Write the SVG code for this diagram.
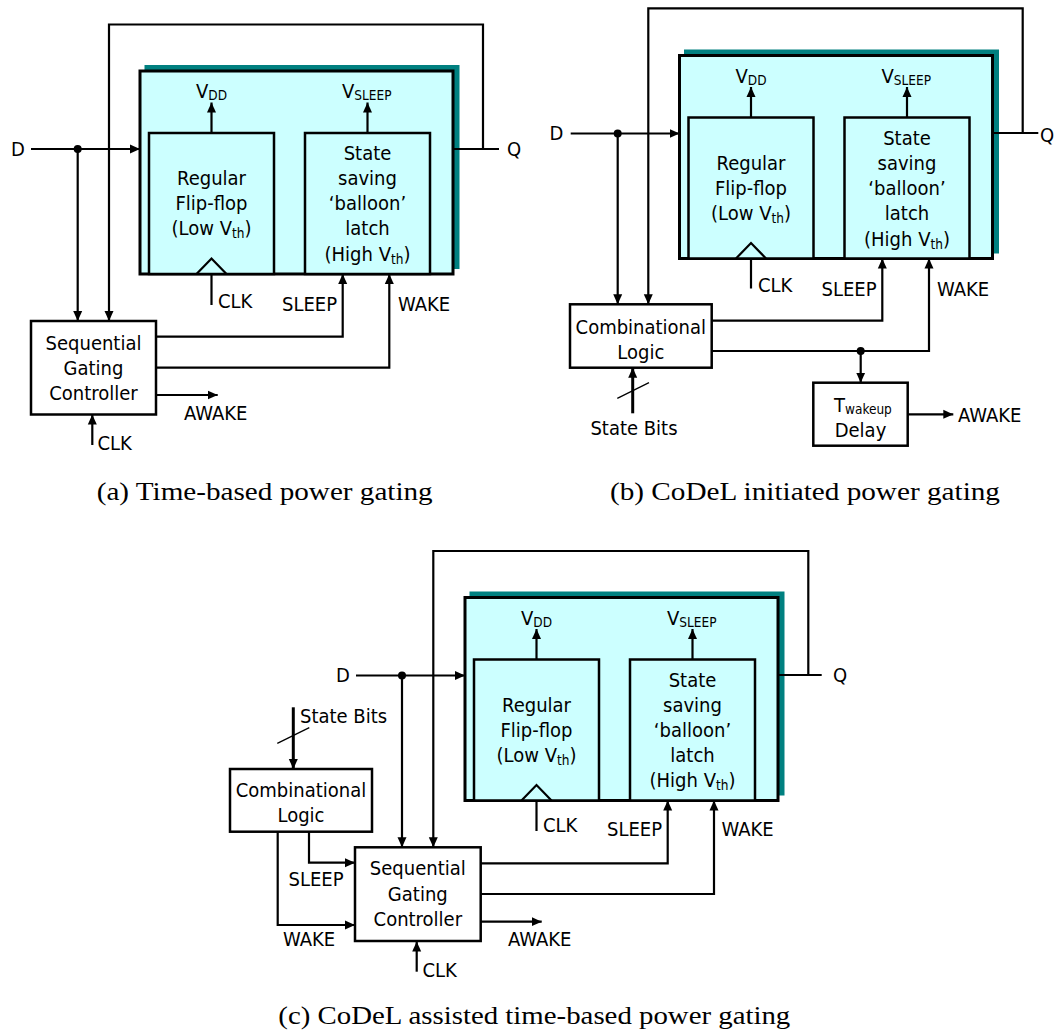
<svg xmlns="http://www.w3.org/2000/svg" width="1063" height="1034" viewBox="0 0 1063 1034">
  <style>
    .bg { fill: #ffffff; }
    .shadow { fill: #008080; stroke: none; }
    .outer { fill: #ccffff; stroke: #000; stroke-width: 3; }
    .inner { fill: #ccffff; stroke: #000; stroke-width: 2.5; }
    .box { fill: #ffffff; stroke: #000; stroke-width: 2.5; }
    .wire { fill: none; stroke: #000; stroke-width: 2.2; }
    .bus { fill: none; stroke: #000; stroke-width: 3; }
    .thin { fill: none; stroke: #000; stroke-width: 1.3; }
    .dot { fill: #000; }
    text { font-family: "DejaVu Sans Condensed", "DejaVu Sans", sans-serif; font-stretch: condensed; font-size: 20px; fill: #000; }
    .c { text-anchor: middle; }
    .e { text-anchor: end; }
    .sub { font-size: 13.5px; }
    .cap { font-family: "Liberation Serif", "DejaVu Serif", serif; font-stretch: normal; font-size: 25px; }
  </style>
  <defs>
    <marker id="ah" viewBox="0 0 10 10" refX="10" refY="5" markerWidth="10" markerHeight="10" markerUnits="userSpaceOnUse" orient="auto">
      <path d="M0,0.5 L10,5 L0,9.5 Z" fill="#000"/>
    </marker>
  </defs>
  <rect class="bg" x="0" y="0" width="1063" height="1034"/>

  <!-- ===== (a) time-based power gating ===== -->
  <g id="a-ff-block">
    <rect class="shadow" x="144.5" y="65" width="315" height="204"/>
    <rect class="outer" x="140" y="71" width="313" height="203"/>
    <text x="196" y="98">V<tspan class="sub" dy="2">DD</tspan></text>
    <text x="342" y="98">V<tspan class="sub" dy="2">SLEEP</tspan></text>
  </g>
  <g id="a-regular-ff">
    <rect class="inner" x="149" y="133" width="125" height="141"/>
    <polyline class="wire" points="196.5,274 211.5,258.5 226.5,274"/>
    <text class="c" x="211.5" y="185">Regular</text>
    <text class="c" x="211.5" y="210">Flip-flop</text>
    <text class="c" x="211.5" y="235">(Low V<tspan class="sub" dy="3">th</tspan><tspan dy="-3">)</tspan></text>
  </g>
  <g id="a-balloon-latch">
    <rect class="inner" x="305" y="133" width="125" height="141"/>
    <text class="c" x="367.5" y="160">State</text>
    <text class="c" x="367.5" y="185">saving</text>
    <text class="c" x="367.5" y="210">‘balloon’</text>
    <text class="c" x="367.5" y="235">latch</text>
    <text class="c" x="367.5" y="261">(High V<tspan class="sub" dy="3">th</tspan><tspan dy="-3">)</tspan></text>
  </g>
  <g id="a-controller">
    <rect class="box" x="31" y="321" width="125" height="93.5"/>
    <text class="c" x="93.5" y="350">Sequential</text>
    <text class="c" x="93.5" y="375">Gating</text>
    <text class="c" x="93.5" y="399.5">Controller</text>
  </g>
  <g id="a-labels">
    <text x="11" y="155.5">D</text>
    <text x="507" y="155.5">Q</text>
    <text x="218" y="308">CLK</text>
    <text class="e" x="337" y="311">SLEEP</text>
    <text x="398" y="311">WAKE</text>
    <text x="184" y="419.5">AWAKE</text>
    <text x="97.5" y="450">CLK</text>
    <text class="cap" x="96.7" y="500" textLength="336" lengthAdjust="spacingAndGlyphs">(a) Time-based power gating</text>
  </g>

  <!-- ===== (b) CoDeL initiated power gating ===== -->
  <g id="b-ff-block">
    <rect class="shadow" x="684" y="49.5" width="315" height="204"/>
    <rect class="outer" x="679.5" y="55.5" width="313" height="203"/>
    <text x="735.5" y="82.5">V<tspan class="sub" dy="2">DD</tspan></text>
    <text x="881.5" y="82.5">V<tspan class="sub" dy="2">SLEEP</tspan></text>
  </g>
  <g id="b-regular-ff">
    <rect class="inner" x="688.5" y="117.5" width="125" height="141"/>
    <polyline class="wire" points="736,258.5 751,243 766,258.5"/>
    <text class="c" x="751" y="170">Regular</text>
    <text class="c" x="751" y="195">Flip-flop</text>
    <text class="c" x="751" y="220">(Low V<tspan class="sub" dy="3">th</tspan><tspan dy="-3">)</tspan></text>
  </g>
  <g id="b-balloon-latch">
    <rect class="inner" x="844.5" y="117.5" width="125" height="141"/>
    <text class="c" x="907" y="145">State</text>
    <text class="c" x="907" y="170">saving</text>
    <text class="c" x="907" y="195">‘balloon’</text>
    <text class="c" x="907" y="220">latch</text>
    <text class="c" x="907" y="245.5">(High V<tspan class="sub" dy="3">th</tspan><tspan dy="-3">)</tspan></text>
  </g>
  <g id="b-comb-logic">
    <rect class="box" x="570" y="304.3" width="141.7" height="63.4"/>
    <text class="c" x="640.8" y="334">Combinational</text>
    <text class="c" x="640.8" y="359">Logic</text>
  </g>
  <g id="b-delay">
    <rect class="box" x="813.3" y="382.7" width="94.4" height="63"/>
    <text x="834" y="412.3">T<tspan class="sub" dy="2">wakeup</tspan></text>
    <text class="c" x="860.5" y="436.7">Delay</text>
  </g>
  <g id="b-labels">
    <text x="549.5" y="140">D</text>
    <text x="1040" y="141.5">Q</text>
    <text x="758" y="292">CLK</text>
    <text class="e" x="876.5" y="295.5">SLEEP</text>
    <text x="937" y="295.5">WAKE</text>
    <text x="958" y="422">AWAKE</text>
    <text class="c" x="634" y="434.5">State Bits</text>
    <text class="cap" x="610" y="500" textLength="390" lengthAdjust="spacingAndGlyphs">(b) CoDeL initiated power gating</text>
  </g>

  <!-- ===== (c) CoDeL assisted time-based power gating ===== -->
  <g id="c-ff-block">
    <rect class="shadow" x="469.5" y="591.5" width="315" height="204"/>
    <rect class="outer" x="465" y="597.5" width="313" height="203"/>
    <text x="521" y="624.5">V<tspan class="sub" dy="2">DD</tspan></text>
    <text x="667" y="624.5">V<tspan class="sub" dy="2">SLEEP</tspan></text>
  </g>
  <g id="c-regular-ff">
    <rect class="inner" x="474" y="659.5" width="125" height="141"/>
    <polyline class="wire" points="521.5,800.5 536.5,785 551.5,800.5"/>
    <text class="c" x="536.5" y="711.5">Regular</text>
    <text class="c" x="536.5" y="736.5">Flip-flop</text>
    <text class="c" x="536.5" y="761.5">(Low V<tspan class="sub" dy="3">th</tspan><tspan dy="-3">)</tspan></text>
  </g>
  <g id="c-balloon-latch">
    <rect class="inner" x="630" y="659.5" width="125" height="141"/>
    <text class="c" x="692.5" y="686.5">State</text>
    <text class="c" x="692.5" y="711.5">saving</text>
    <text class="c" x="692.5" y="736.5">‘balloon’</text>
    <text class="c" x="692.5" y="761.5">latch</text>
    <text class="c" x="692.5" y="787">(High V<tspan class="sub" dy="3">th</tspan><tspan dy="-3">)</tspan></text>
  </g>
  <g id="c-comb-logic">
    <rect class="box" x="230" y="769" width="142" height="62.7"/>
    <text class="c" x="301" y="797.3">Combinational</text>
    <text class="c" x="301" y="822.3">Logic</text>
  </g>
  <g id="c-controller">
    <rect class="box" x="355" y="847.3" width="125.7" height="93.7"/>
    <text class="c" x="417.8" y="875">Sequential</text>
    <text class="c" x="417.8" y="900.5">Gating</text>
    <text class="c" x="417.8" y="925.5">Controller</text>
  </g>
  <g id="c-labels">
    <text x="336" y="682">D</text>
    <text x="833" y="682">Q</text>
    <text x="543" y="832">CLK</text>
    <text class="e" x="662" y="836">SLEEP</text>
    <text x="721.5" y="836">WAKE</text>
    <text x="300" y="722.5">State Bits</text>
    <text class="e" x="343.5" y="885.5">SLEEP</text>
    <text x="283" y="945.5">WAKE</text>
    <text x="508" y="945.5">AWAKE</text>
    <text x="422.5" y="977">CLK</text>
    <text class="cap" x="278.3" y="1024" textLength="512" lengthAdjust="spacingAndGlyphs">(c) CoDeL assisted time-based power gating</text>
  </g>

  <!-- ===== wiring ===== -->
  <g id="connectors">
    <!-- (a) -->
    <line class="wire" x1="211.5" y1="133" x2="211.5" y2="102.5" marker-end="url(#ah)"/>
    <line class="wire" x1="367.5" y1="133" x2="367.5" y2="102.5" marker-end="url(#ah)"/>
    <line class="wire" x1="31" y1="149" x2="140" y2="149" marker-end="url(#ah)"/>
    <circle class="dot" cx="77.7" cy="149" r="4"/>
    <line class="wire" x1="77.7" y1="149" x2="77.7" y2="321" marker-end="url(#ah)"/>
    <path class="wire" d="M483,149 V24.5 H109 V321" marker-end="url(#ah)"/>
    <line class="wire" x1="453" y1="149" x2="499" y2="149"/>
    <line class="wire" x1="211.5" y1="274" x2="211.5" y2="305"/>
    <path class="wire" d="M156,336.7 H342.7 V274" marker-end="url(#ah)"/>
    <path class="wire" d="M156,367.7 H389.3 V274" marker-end="url(#ah)"/>
    <line class="wire" x1="156" y1="395" x2="217.7" y2="395" marker-end="url(#ah)"/>
    <line class="wire" x1="92.3" y1="445" x2="92.3" y2="414.5" marker-end="url(#ah)"/>

    <!-- (b) -->
    <line class="wire" x1="751" y1="117.5" x2="751" y2="87" marker-end="url(#ah)"/>
    <line class="wire" x1="907" y1="117.5" x2="907" y2="87" marker-end="url(#ah)"/>
    <line class="wire" x1="570.7" y1="133.5" x2="679.5" y2="133.5" marker-end="url(#ah)"/>
    <circle class="dot" cx="617.7" cy="133.5" r="4"/>
    <line class="wire" x1="617.7" y1="133.5" x2="617.7" y2="304.3" marker-end="url(#ah)"/>
    <path class="wire" d="M1022.7,133 V8.3 H648.3 V304.3" marker-end="url(#ah)"/>
    <line class="wire" x1="992" y1="133" x2="1038.3" y2="133"/>
    <line class="wire" x1="751" y1="258.5" x2="751" y2="288.5"/>
    <path class="wire" d="M711.7,320.7 H882.3 V258.5" marker-end="url(#ah)"/>
    <path class="wire" d="M711.7,351 H929 V258.5" marker-end="url(#ah)"/>
    <circle class="dot" cx="860.7" cy="351" r="4"/>
    <line class="wire" x1="860.7" y1="351" x2="860.7" y2="382.7" marker-end="url(#ah)"/>
    <line class="wire" x1="907.7" y1="414.3" x2="953.3" y2="414.3" marker-end="url(#ah)"/>
    <line class="bus" x1="632.7" y1="413.3" x2="632.7" y2="367.7" marker-end="url(#ah)"/>
    <line class="thin" x1="617.3" y1="398.3" x2="649" y2="382.7"/>

    <!-- (c) -->
    <line class="wire" x1="536.5" y1="659.5" x2="536.5" y2="629" marker-end="url(#ah)"/>
    <line class="wire" x1="692.5" y1="659.5" x2="692.5" y2="629" marker-end="url(#ah)"/>
    <line class="wire" x1="356" y1="675.5" x2="465" y2="675.5" marker-end="url(#ah)"/>
    <circle class="dot" cx="402" cy="675.5" r="4"/>
    <line class="wire" x1="402" y1="675.5" x2="402" y2="847.3" marker-end="url(#ah)"/>
    <path class="wire" d="M808.3,675 V551 H433.3 V847.3" marker-end="url(#ah)"/>
    <line class="wire" x1="778" y1="675" x2="821.7" y2="675"/>
    <line class="wire" x1="536.5" y1="800.5" x2="536.5" y2="831"/>
    <line class="bus" x1="293.3" y1="707.3" x2="293.3" y2="769" marker-end="url(#ah)"/>
    <line class="thin" x1="277.3" y1="743.3" x2="309.3" y2="727.7"/>
    <path class="wire" d="M309,831.7 V862.7 H355" marker-end="url(#ah)"/>
    <path class="wire" d="M277.7,831.7 V925 H355" marker-end="url(#ah)"/>
    <path class="wire" d="M480.7,863.3 H667.7 V800.5" marker-end="url(#ah)"/>
    <path class="wire" d="M480.7,894 H714 V800.5" marker-end="url(#ah)"/>
    <line class="wire" x1="480.7" y1="921.7" x2="541.7" y2="921.7" marker-end="url(#ah)"/>
    <line class="wire" x1="416.7" y1="971.7" x2="416.7" y2="941.5" marker-end="url(#ah)"/>
  </g>
</svg>
